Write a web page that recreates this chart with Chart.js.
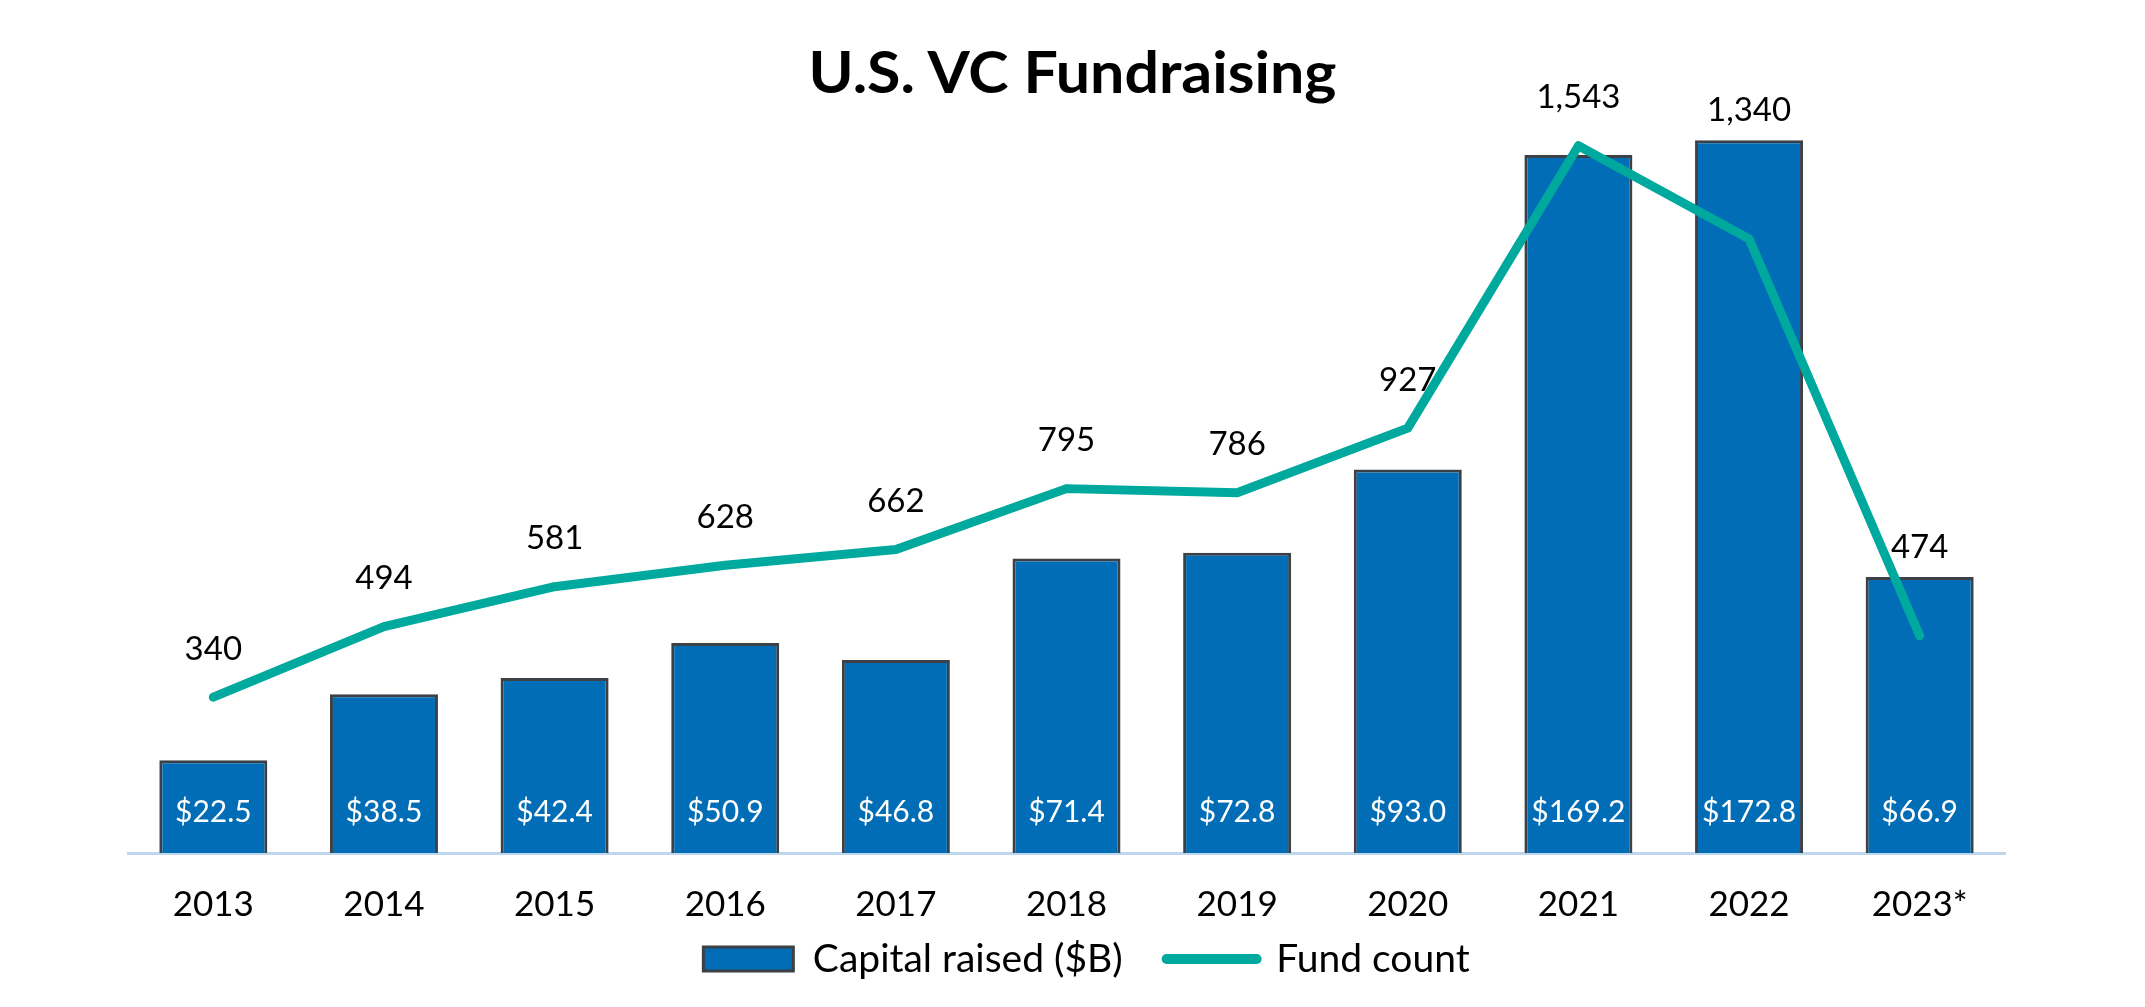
<!DOCTYPE html>
<html>
<head>
  <meta charset="UTF-8">
  <title>U.S. VC Fundraising</title>
  <script src="https://cdn.jsdelivr.net/npm/chart.js"></script>
  <style>
    body { margin: 0; background: #fff; }
    #wrap { position: relative; width: 2145px; height: 1007px; }
    #title {
      position: absolute; left: 0; top: 42px; width: 2145px;
      text-align: center; font: bold 58px Lato, sans-serif; line-height: 1;
      color: #000; transform: scaleX(1.05); transform-origin: 1073px 0;
    }
  </style>
</head>
<body>
  <div id="wrap">
    <canvas id="vcChart"></canvas>
    <div id="title">U.S. VC Fundraising</div>
  </div>

  <script>
    // data
    const years = ['2013', '2014', '2015', '2016', '2017', '2018', '2019', '2020', '2021', '2022', '2023*'];
    const capitalRaised = [22.5, 38.5, 42.4, 50.9, 46.8, 71.4, 72.8, 93.0, 169.2, 172.8, 66.9];
    const fundCount = [340, 494, 581, 628, 662, 795, 786, 927, 1543, 1340, 474];

    const barBlue = '#006DB6';
    const barEdge = '#3B4146';
    const teal = '#00A99D';

    // value labels: white $ inside bars, counts above the line
    const valueLabels = {
      id: 'valueLabels',
      afterDatasetsDraw(chart) {
        const ctx = chart.ctx;
        const bars = chart.getDatasetMeta(0).data;
        const pts = chart.getDatasetMeta(1).data;
        const base = chart.chartArea.bottom;
        ctx.save();
        ctx.textAlign = 'center';
        ctx.textBaseline = 'middle';

        ctx.fillStyle = '#fff';
        ctx.font = '30px Lato, sans-serif';
        bars.forEach((b, i) => {
          ctx.fillText('$' + capitalRaised[i].toFixed(1), b.x, base - 41);
        });

        ctx.fillStyle = '#000';
        ctx.font = '33px Lato, sans-serif';
        pts.forEach((p, i) => {
          let y = p.y - 48;
          if (bars[i].y < p.y) y = Math.min(y, bars[i].y - 30);
          ctx.fillText(fundCount[i].toLocaleString('en-US'), p.x, y);
        });
        ctx.restore();
      }
    };

    // pull the legend row up under the year labels, a touch right
    const legendPlace = {
      id: 'legendPlace',
      afterLayout(chart) {
        const lg = chart.legend;
        const pad = lg.options.labels.padding;
        const want = chart.chartArea.bottom + 106;
        lg.top += want - (lg.top + pad + 19.5);
        lg.bottom = chart.height;
        lg.height = lg.bottom - lg.top;
        lg.left += 20;
        lg.right += 20;
      }
    };

    const ctx = document.getElementById('vcChart').getContext('2d');
    new Chart(ctx, {
      data: {
        labels: years,
        datasets: [
          {
            type: 'bar',
            label: 'Capital raised ($B)',
            data: capitalRaised,
            backgroundColor: barBlue,
            borderColor: barEdge,
            borderWidth: 3,
            categoryPercentage: 1,
            barPercentage: 0.633,
            yAxisID: 'y',
            order: 2
          },
          {
            type: 'line',
            label: 'Fund count',
            data: fundCount,
            borderColor: teal,
            borderWidth: 9,
            borderCapStyle: 'round',
            borderJoinStyle: 'round',
            pointRadius: 0,
            tension: 0,
            yAxisID: 'y1',
            order: 1
          }
        ]
      },
      options: {
        responsive: true,
        maintainAspectRatio: false,
        animation: false,
        layout: { padding: { left: 128, right: 140, top: 28, bottom: 0 } },
        scales: {
          x: {
            z: 1,
            grid: { display: false, drawTicks: false },
            border: { display: true, color: '#BDD7EE', width: 3 },
            ticks: { color: '#000', font: { family: 'Lato', size: 35 }, padding: 31 }
          },
          y: { display: false, min: 0, max: 200 },
          y1: { display: false, min: 0, max: 1800 }
        },
        plugins: {
          tooltip: { enabled: false },
          legend: {
            position: 'bottom',
            maxHeight: 50,
            labels: {
              color: '#000',
              font: { family: 'Lato', size: 39 },
              usePointStyle: true,
              pointStyleWidth: 90,
              boxHeight: 24,
              padding: 44,
              generateLabels(chart) {
                return chart.data.datasets.map((ds, i) => ({
                  text: ds.label,
                  datasetIndex: i,
                  fontColor: '#000',
                  fillStyle: ds.type === 'bar' ? barBlue : teal,
                  strokeStyle: ds.type === 'bar' ? barEdge : teal,
                  lineWidth: ds.type === 'bar' ? 3 : 10,
                  lineCap: 'round',
                  pointStyle: ds.type === 'bar' ? 'rect' : 'line',
                  hidden: false
                }));
              }
            }
          }
        }
      },
      plugins: [valueLabels, legendPlace]
    });
  </script>
</body>
</html>
